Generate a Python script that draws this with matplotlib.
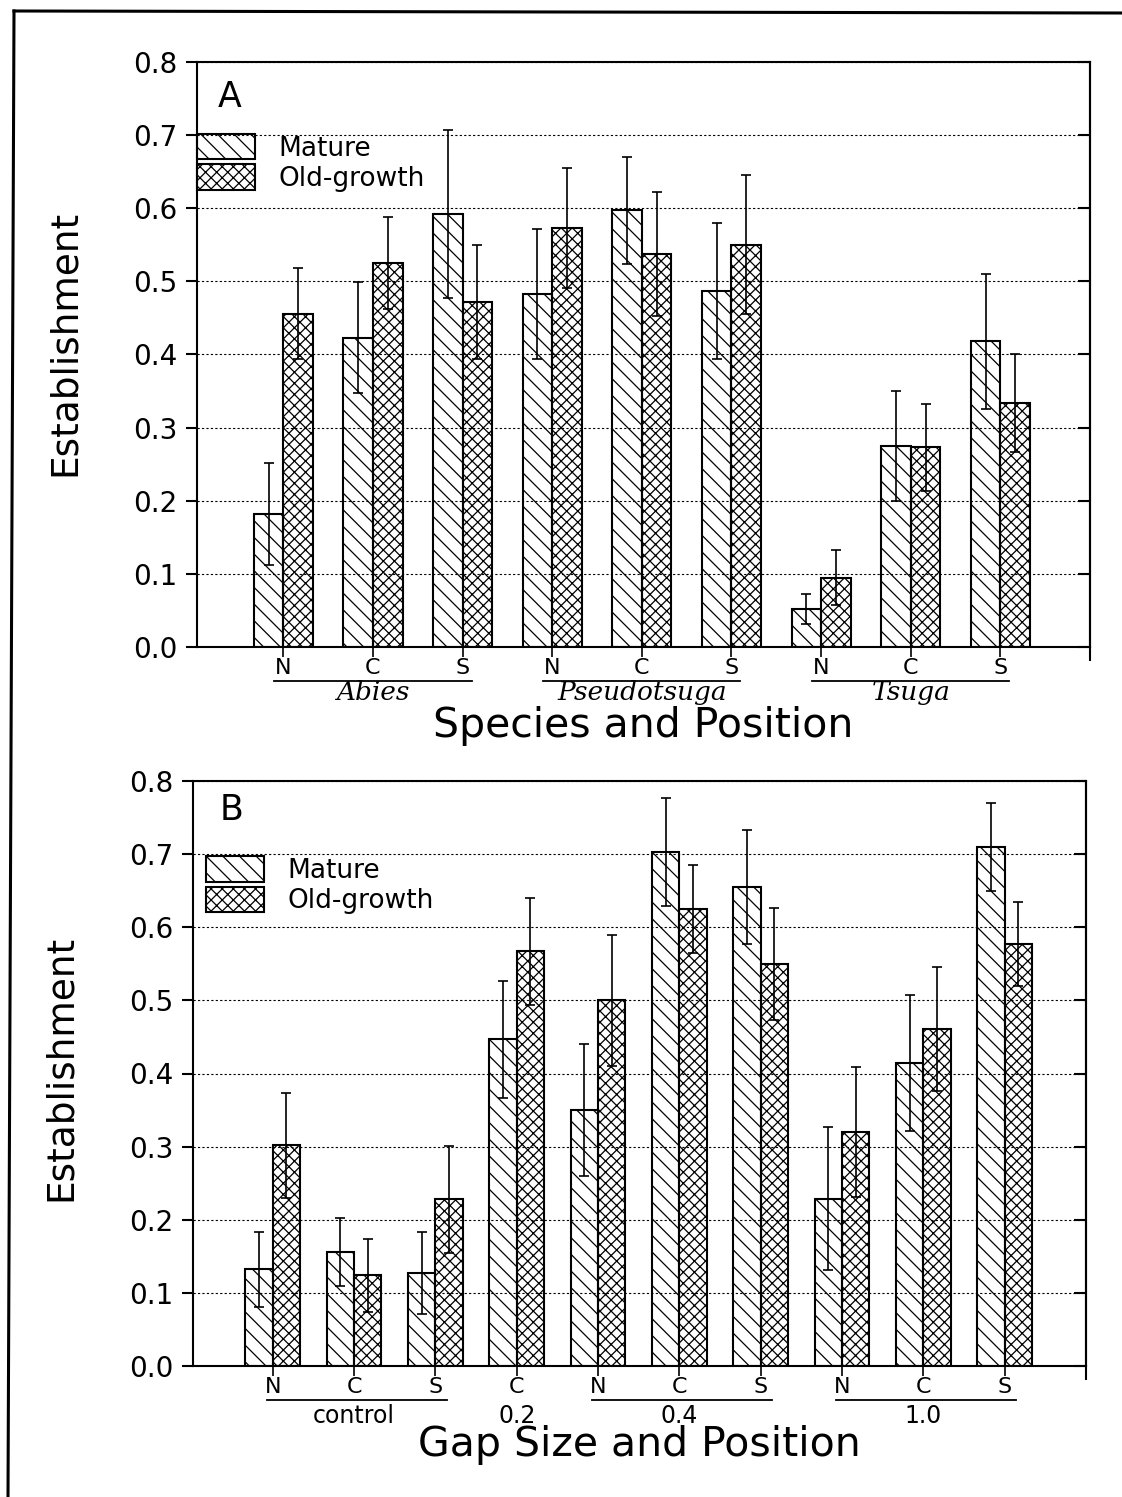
import matplotlib
matplotlib.use('Agg')
import matplotlib.pyplot as plt
import numpy as np
from matplotlib.lines import Line2D

# panel A: species x position
a_mature = [0.182, 0.423, 0.592, 0.483, 0.597, 0.487, 0.052, 0.275, 0.418]
a_mature_err = [0.070, 0.076, 0.115, 0.089, 0.073, 0.093, 0.021, 0.075, 0.092]
a_old = [0.456, 0.525, 0.472, 0.573, 0.537, 0.550, 0.095, 0.273, 0.333]
a_old_err = [0.062, 0.063, 0.078, 0.082, 0.085, 0.095, 0.037, 0.059, 0.067]
a_pos = ['N', 'C', 'S', 'N', 'C', 'S', 'N', 'C', 'S']
a_groups = ['Abies', 'Pseudotsuga', 'Tsuga']
a_spans = [(0, 2), (3, 5), (6, 8)]

# panel B: gap size x position
b_mature = [0.132, 0.156, 0.127, 0.447, 0.350, 0.703, 0.655, 0.229, 0.414, 0.710]
b_mature_err = [0.051, 0.047, 0.056, 0.080, 0.090, 0.074, 0.078, 0.098, 0.093, 0.060]
b_old = [0.302, 0.124, 0.228, 0.567, 0.500, 0.625, 0.550, 0.320, 0.461, 0.577]
b_old_err = [0.072, 0.050, 0.073, 0.073, 0.090, 0.060, 0.077, 0.089, 0.085, 0.058]
b_pos = ['N', 'C', 'S', 'C', 'N', 'C', 'S', 'N', 'C', 'S']
b_groups = ['control', '0.2', '0.4', '1.0']
b_spans = [(0, 2), (3, 3), (4, 6), (7, 9)]

plt.rcParams['font.family'] = ['DejaVu Sans']
plt.rcParams['hatch.linewidth'] = 0.9
plt.rcParams['hatch.color'] = 'k'


def panel(ax, mature, m_err, old, o_err, pos, groups, spans, letter, xlabel,
          xlim, w, leg_xy, letter_xy, grp_italic, line_ext, ylab_y):
    x = np.arange(len(mature))
    ax.set_xlim(*xlim)
    ax.set_ylim(0, 0.8)
    ax.set_yticks(np.arange(0, 0.81, 0.1))
    ax.set_yticklabels(['%.1f' % v for v in np.arange(0, 0.81, 0.1)], fontsize=20)
    ax.yaxis.grid(True, linestyle=(0, (2, 2)), linewidth=0.8, color='k')
    ax.set_axisbelow(True)

    b1 = ax.bar(x - w / 2, mature, w, facecolor='none', edgecolor='k',
                linewidth=1.5, hatch='\\\\', label='Mature', zorder=2)
    b2 = ax.bar(x + w / 2, old, w, facecolor='none', edgecolor='k',
                linewidth=1.5, hatch='xxx', label='Old-growth', zorder=2)
    ax.errorbar(x - w / 2, mature, yerr=m_err, fmt='none', ecolor='k',
                elinewidth=1.2, capsize=3.8, capthick=1.2, zorder=3)
    ax.errorbar(x + w / 2, old, yerr=o_err, fmt='none', ecolor='k',
                elinewidth=1.2, capsize=3.8, capthick=1.2, zorder=3)

    for s in ax.spines.values():
        s.set_linewidth(1.5)
    ax.tick_params(axis='y', direction='out', length=8, width=1.5, pad=6)
    ax.set_xticks(x)
    ax.set_xticklabels(pos, fontsize=16)
    ax.tick_params(axis='x', direction='out', length=7, width=1.2, pad=1)
    # end tick at the right of the x axis
    ax.set_xticks([xlim[1]], minor=True)
    ax.tick_params(axis='x', which='minor', length=10, width=1.5)

    right = ax.secondary_yaxis('right')
    right.set_yticks(np.arange(0, 0.81, 0.1))
    right.tick_params(direction='in', length=9, width=1.5, labelright=False)
    right.spines['right'].set_linewidth(1.5)

    tr = ax.get_xaxis_transform()
    for name, (i0, i1) in zip(groups, spans):
        if i1 > i0:
            ax.add_line(Line2D([i0 - line_ext[0], i1 + line_ext[1]], [-0.058, -0.058],
                               transform=tr, color='k', linewidth=1.3, clip_on=False))
        if grp_italic:
            ax.text((i0 + i1) / 2, -0.077, name, transform=tr, ha='center', va='center',
                    fontsize=19, family='DejaVu Serif', style='italic')
        else:
            ax.text((i0 + i1) / 2, -0.085, name, transform=tr, ha='center', va='center',
                    fontsize=17)

    ax.text(0.5, -0.135, xlabel, transform=ax.transAxes, ha='center', va='center',
            fontsize=29.5)
    ax.set_ylabel('Establishment', fontsize=27)
    ax.yaxis.set_label_coords(-0.128, ylab_y)
    ax.text(letter_xy[0], letter_xy[1], letter, transform=ax.transAxes, fontsize=25,
            ha='left', va='baseline')

    ax.legend(handles=[b1, b2], loc='upper left', bbox_to_anchor=leg_xy,
              frameon=False, fontsize=19, handlelength=2.2, handleheight=1.1,
              labelspacing=0.1, handletextpad=0.9, borderpad=0, borderaxespad=0)


fig = plt.figure(figsize=(11.22, 14.97), dpi=100)
W, H = 1122.0, 1497.0

axA = fig.add_axes([197 / W, 1 - 647 / H, (1090 - 197) / W, (647 - 62) / H])
panel(axA, a_mature, a_mature_err, a_old, a_old_err, a_pos, a_groups, a_spans,
      'A', 'Species and Position', (-0.963, 9.0), 0.33, (0.0, 0.877),
      (0.0235, 0.923), True, (0.1, 0.1), 0.52)

axB = fig.add_axes([193 / W, 1 - 1366 / H, (1086 - 193) / W, (1366 - 781) / H])
panel(axB, b_mature, b_mature_err, b_old, b_old_err, b_pos, b_groups, b_spans,
      'B', 'Gap Size and Position', (-0.98, 10.0), 0.335, (0.014, 0.871),
      (0.030, 0.933), False, (0.07, 0.14), 0.51)

# page border, top and left
fig.add_artist(Line2D([14 / W, 1.0], [1 - 11 / H, 1 - 13 / H], color='k', linewidth=2.2))
fig.add_artist(Line2D([14 / W, 8 / W], [1 - 11 / H, 0.0], color='k', linewidth=2.2))

fig.savefig('out.png', dpi=100)
